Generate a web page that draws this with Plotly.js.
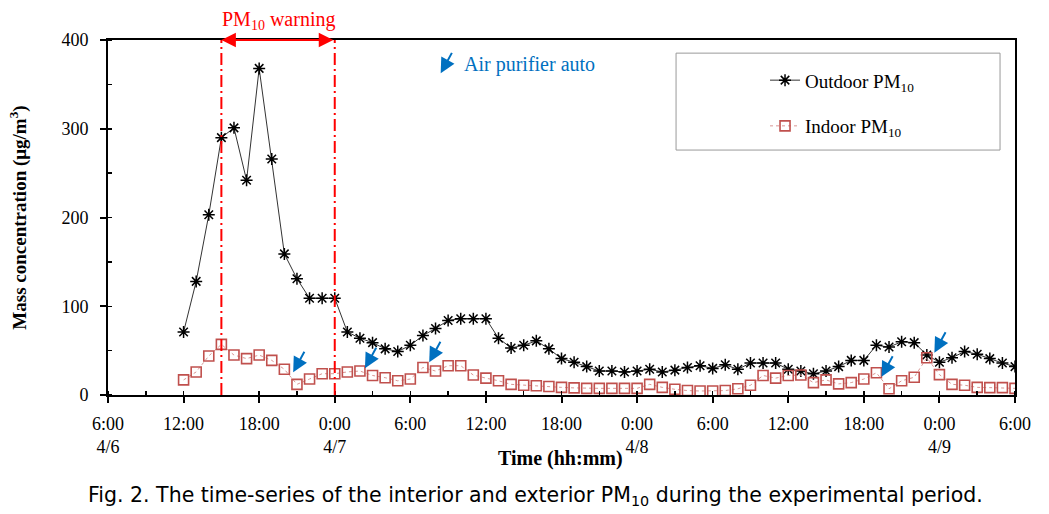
<!DOCTYPE html>
<html>
<head>
<meta charset="utf-8">
<script src="https://cdn.plot.ly/plotly-3.0.1.min.js"></script>
<style>html,body{margin:0;padding:0;background:#fff;}#chart{width:1049px;height:514px;}</style>
</head>
<body>
<div id="chart"></div>
<script>
// Time in hours since 6:00 on 4/6
const hours = [6,7,8,9,10,11,12,13,14,15,16,17,18,19,20,21,22,23,24,25,26,27,28,29,30,31,32,33,34,35,36,37,38,39,40,41,42,43,44,45,46,47,48,49,50,51,52,53,54,55,56,57,58,59,60,61,62,63,64,65,66,67,68,69,70,71,72];
const outdoorPM10 = [71,128,203,290,301,242,368,266,159,131,109,109,109,
  71,64,59,52,49,56,67,75,84,86,86,86,64,53,56,61,52,41,
  37,32,27,27,26,27,29,26,28,31,33,30,34,29,36,36,36,29,
  27,24,27,32,39,39,56,54,60,59,45,37,42,49,46,41,36,32];
const indoorPM10 = [17,26,44,57,45,41,45,39,29,12,18,24,24,
  26,27,22,19.5,16,18,31,27,33,33,22.5,19,16,12,11,10.5,9.5,8.6,
  8,7.5,7.5,7.5,7.5,7.5,12,8.6,6.4,5,4.5,4.5,5,7,11,22,19,22,
  22.5,14,17,12.5,14,18,25,7,16,20,42,23,12,11,8.6,8.3,8.3,7.5];
const tickHours = [0,6,12,18,24,30,36,42,48,54,60,66,72];
const tickLabels = ['6:00<br>4/6','12:00','18:00','0:00<br>4/7','6:00','12:00','18:00','0:00<br>4/8','6:00','12:00','18:00','0:00<br>4/9','6:00'];
const yTicks = [0,100,200,300,400];
const warningStart = 9, warningEnd = 18;
const purifierHours = [14.7,20.4,25.5,61.4,65.6];
const purifierLevels = [25.6,30.1,36.8,20.6,47.7];

const serif = 'Liberation Serif, Times New Roman, serif';
const blue = '#0070C0';
const red = '#FF0000';

const traces = [
  {x: hours, y: outdoorPM10, name: 'Outdoor PM<sub>10</sub>', type: 'scatter', mode: 'lines+markers',
   legendgroup: 'a',
   line: {color: '#333', width: 1},
   marker: {symbol: 'asterisk-open', size: 10, color: '#000', line: {color: '#000', width: 1.5}}},
  {x: hours, y: indoorPM10, name: 'Indoor PM<sub>10</sub>', type: 'scatter', mode: 'lines+markers',
   legendgroup: 'b',
   line: {color: '#D99694', width: 1, dash: 'dot'},
   marker: {symbol: 'square-open', size: 10, color: '#C0504D', line: {color: '#C0504D', width: 1.6}}}
];

const annotations = [
  {xref: 'x', yref: 'y', x: warningStart, y: 400, axref: 'x', ayref: 'y', ax: warningEnd, ay: 400,
   text: '', showarrow: true, arrowside: 'end+start', arrowhead: 2, startarrowhead: 2,
   arrowsize: 1.45, startarrowsize: 1.45, arrowwidth: 2, arrowcolor: red},
  {xref: 'x', yref: 'paper', x: (warningStart + warningEnd) / 2, y: 1, yanchor: 'bottom', yshift: 5,
   text: 'PM<sub>10</sub> warning', showarrow: false, font: {family: serif, size: 20, color: red}},
  {xref: 'paper', yref: 'paper', x: 0.3668, y: 0.906, ax: 12, ay: -22, text: '', showarrow: true,
   arrowhead: 2, arrowsize: 1.5, arrowwidth: 2, arrowcolor: blue},
  {xref: 'paper', yref: 'paper', x: 0.3903, y: 0.932, xanchor: 'left', yanchor: 'middle',
   text: 'Air purifier auto', showarrow: false, font: {family: serif, size: 20, color: blue}},
  {xref: 'paper', yref: 'paper', x: 0.4994, y: -0.1775, xanchor: 'center', yanchor: 'middle',
   text: '<b>Time (hh:mm)</b>', showarrow: false, font: {family: serif, size: 20, color: '#000'}},
  {xref: 'paper', yref: 'paper', x: 0.4708, y: -0.2845, xanchor: 'center', yanchor: 'middle',
   text: 'Fig. 2. The time-series of the interior and exterior PM<sub>10</sub> during the experimental period.',
   showarrow: false, font: {family: 'DejaVu Sans, Arial, sans-serif', size: 20.5, color: '#000'}}
];
purifierHours.forEach((h, i) => {
  annotations.push({xref: 'x', yref: 'y', x: h, y: purifierLevels[i], ax: 12, ay: -22, text: '',
    showarrow: true, arrowhead: 2, arrowsize: 1.5, arrowwidth: 2, arrowcolor: blue});
});

const shapes = [
  {type: 'line', xref: 'x', yref: 'paper', x0: warningStart, x1: warningStart, y0: 0, y1: 1,
   line: {color: red, width: 2, dash: '12px,4px,2px,4px'}},
  {type: 'line', xref: 'x', yref: 'paper', x0: warningEnd, x1: warningEnd, y0: 0, y1: 1,
   line: {color: red, width: 2, dash: '12px,4px,2px,4px'}},
  {type: 'rect', xref: 'paper', yref: 'paper', x0: 0.6263, x1: 0.9835, y0: 0.690, y1: 0.963,
   line: {color: '#999', width: 1}, fillcolor: 'rgba(0,0,0,0)'}
];

const layout = {
  width: 1049, height: 514,
  margin: {l: 108, r: 34, t: 40, b: 119},
  paper_bgcolor: '#fff', plot_bgcolor: '#fff',
  font: {family: serif, size: 18, color: '#000'},
  showlegend: true,
  legend: {x: 0.7244, y: 0.94, xanchor: 'left', yanchor: 'top', bgcolor: 'rgba(0,0,0,0)',
           borderwidth: 0, font: {family: serif, size: 19, color: '#000'},
           traceorder: 'grouped', tracegroupgap: 18},
  xaxis: {range: [0, 72], tickmode: 'array', tickvals: tickHours, ticktext: tickLabels,
          ticks: 'outside', ticklen: 6, tickwidth: 2, tickcolor: '#000',
          showline: true, linecolor: '#000', linewidth: 2, mirror: true,
          showgrid: false, zeroline: false, ticklabelstandoff: 5,
          tickfont: {family: serif, size: 18},
          minor: {dtick: 3, ticks: 'inside', ticklen: 4, tickwidth: 1.5, tickcolor: '#000', showgrid: false}},
  yaxis: {range: [0, 400], tickmode: 'array', tickvals: yTicks,
          ticks: 'outside', ticklen: 6, tickwidth: 2, tickcolor: '#000',
          showline: true, linecolor: '#000', linewidth: 2, mirror: true,
          showgrid: false, zeroline: false, ticklabelstandoff: 8,
          tickfont: {family: serif, size: 18},
          minor: {dtick: 50, ticks: 'inside', ticklen: 4, tickwidth: 1.5, tickcolor: '#000', showgrid: false},
          title: {text: '<b>Mass concentration (μg/m<sup>3</sup>)</b>', font: {family: serif, size: 19}, standoff: 30}},
  xaxis2: {overlaying: 'x', anchor: 'y', side: 'bottom', range: [0, 72], tickmode: 'array', tickvals: tickHours,
           ticks: 'inside', ticklen: 4, tickwidth: 2, tickcolor: '#000', showticklabels: false,
           showline: false, showgrid: false, zeroline: false},
  yaxis2: {overlaying: 'y', anchor: 'x', side: 'left', range: [0, 400], tickmode: 'array', tickvals: yTicks,
           ticks: 'inside', ticklen: 4, tickwidth: 2, tickcolor: '#000', showticklabels: false,
           showline: false, showgrid: false, zeroline: false},
  shapes: shapes,
  annotations: annotations
};

Plotly.newPlot('chart', traces, layout, {displayModeBar: false, staticPlot: true});
</script>
</body>
</html>
